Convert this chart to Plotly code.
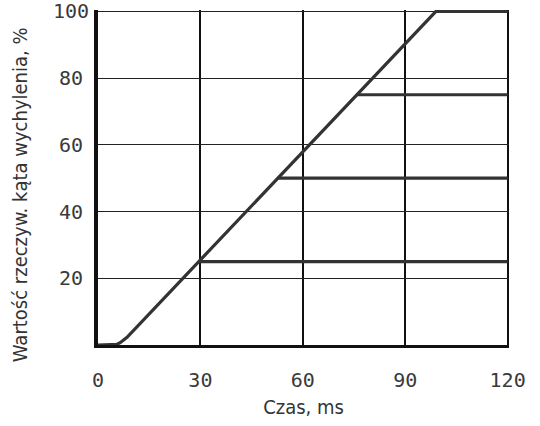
import plotly.graph_objects as go

# Ramp (main curve) data
ramp_x = [0, 4.5, 5.5, 6.5, 7.5, 8.5, 99, 120]
ramp_y = [0, 0, 0.2, 0.7, 1.4, 2.3, 100, 100]

# Plateau levels and their start times
plateau_levels = [25, 50, 75]
plateau_start = [29.5, 52.6, 75.8]
plateau_end = 120

x_ticks = [0, 30, 60, 90, 120]
y_ticks = [20, 40, 60, 80, 100]

fig = go.Figure()
line_style = dict(color="#333333", width=3.2)
fig.add_trace(go.Scatter(x=ramp_x, y=ramp_y, mode="lines", line=line_style,
                         showlegend=False))
for lvl, xs in zip(plateau_levels, plateau_start):
    fig.add_trace(go.Scatter(x=[xs, plateau_end], y=[lvl, lvl], mode="lines",
                             line=line_style, showlegend=False))

tick_font = dict(family="DejaVu Sans Mono", size=20, color="#3a3a3a")
title_font = dict(family="DejaVu Sans Condensed", size=20, color="#333333")

# y tick labels, centred in their column
for v in y_ticks:
    fig.add_annotation(x=-0.065, xref="paper", y=v, yref="y", text=str(v),
                       showarrow=False, xanchor="center", yanchor="middle",
                       font=tick_font)

fig.add_annotation(x=-0.19, xref="paper", y=0.45, yref="paper",
                   text="Wartość rzeczyw. kąta wychylenia, %", textangle=-90,
                   showarrow=False, xanchor="center", yanchor="middle",
                   font=title_font)

fig.update_layout(
    width=540, height=426,
    margin=dict(l=98, r=31, t=10, b=77),
    paper_bgcolor="white", plot_bgcolor="white",
    xaxis=dict(range=[0, 120.4], tickvals=x_ticks, ticktext=[str(v) for v in x_ticks],
               showgrid=True, gridcolor="#111", gridwidth=1.6,
               showline=True, linecolor="#111", linewidth=2.5,
               ticks="", tickfont=tick_font, ticklabelstandoff=15,
               title=dict(text="Czas, ms", font=title_font, standoff=10),
               zeroline=False),
    yaxis=dict(range=[0, 100.4], tickvals=y_ticks,
               showgrid=True, gridcolor="#222", gridwidth=1.1,
               showline=True, linecolor="#111", linewidth=3.5,
               ticks="", showticklabels=False,
               zeroline=False),
)

fig.write_html("out.html")
